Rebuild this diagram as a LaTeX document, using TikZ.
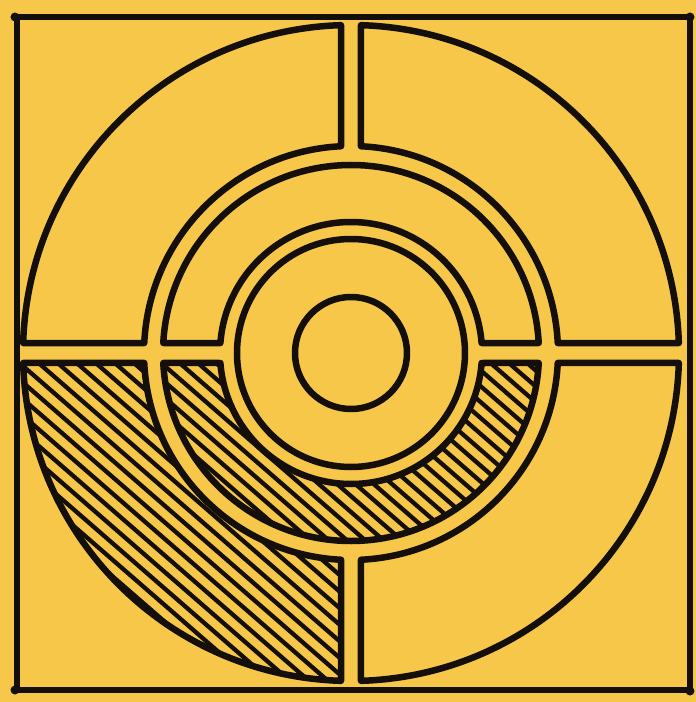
\documentclass[tikz,border=0pt]{standalone}
\definecolor{paper}{RGB}{247,199,74}
\definecolor{ink}{RGB}{20,15,10}
\begin{document}
\begin{tikzpicture}[line join=round, line cap=round,
  outline/.style={draw=ink, line width=6.5pt},
  hatchline/.style={draw=ink, line width=4.3pt, line cap=butt}]
\fill[paper] (-351pt,-349pt) rectangle (345pt,353pt);
\useasboundingbox (-351pt,-349pt) rectangle (345pt,353pt);
% radii and gap angles (gap half width 10pt)
\def\RA{328pt}\def\aA{1.747}
\def\RB{207pt}\def\aB{2.769}
\def\RC{188pt}\def\aC{3.049}
\def\RD{131pt}\def\aD{4.378}
% frame
\draw[outline, line width=5.8pt] (-334pt,336pt) rectangle (339pt,-337pt);
\foreach \p in {(-336pt,336pt),(339pt,336pt),(-336pt,-337pt),(339pt,-338pt)}
  \fill[ink] \p circle (4.5pt);
% hatching: lower-left outer quadrant
\begin{scope}
  \clip ({180+\aA}:\RA) arc[start angle=180+\aA, end angle=270-\aA, radius=\RA]
     -- ({270-\aB}:\RB) arc[start angle=270-\aB, end angle=180+\aB, radius=\RB] -- cycle;
  \begin{scope}[rotate=-41]
    \foreach \k in {-40,...,40}
      \draw[hatchline] (-500pt,\k*12.5pt) -- (500pt,\k*12.5pt);
  \end{scope}
\end{scope}
% hatching: lower half of middle ring
\begin{scope}
  \clip ({180+\aC}:\RC) arc[start angle=180+\aC, end angle=360-\aC, radius=\RC]
     -- ({360-\aD}:\RD) arc[start angle=360-\aD, end angle=180+\aD, radius=\RD] -- cycle;
  \begin{scope}[rotate=-41]
    \foreach \k in {-30,...,30}
      \draw[hatchline] (-500pt,\k*12pt) -- (500pt,\k*12pt);
  \end{scope}
\end{scope}
% outer quadrants
\foreach \b in {0,90,180,270}
  \draw[outline] ({\b+\aA}:\RA) arc[start angle=\b+\aA, end angle=\b+90-\aA, radius=\RA]
     -- ({\b+90-\aB}:\RB) arc[start angle=\b+90-\aB, end angle=\b+\aB, radius=\RB] -- cycle;
% middle ring halves
\foreach \b in {0,180}
  \draw[outline] ({\b+\aC}:\RC) arc[start angle=\b+\aC, end angle=\b+180-\aC, radius=\RC]
     -- ({\b+180-\aD}:\RD) arc[start angle=\b+180-\aD, end angle=\b+\aD, radius=\RD] -- cycle;
% inner circles
\draw[outline] (0,0) circle (114pt);
\draw[outline] (0,0) circle (56pt);
\end{tikzpicture}
\end{document}
